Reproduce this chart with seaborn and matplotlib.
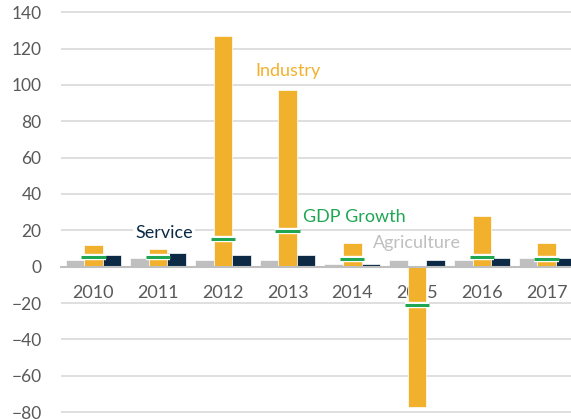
import matplotlib
matplotlib.use("Agg")
import matplotlib.pyplot as plt
import matplotlib.patheffects as pe
import seaborn as sns
import pandas as pd

years = ["2010", "2011", "2012", "2013", "2014", "2015", "2016", "2017"]
agriculture = [3.7, 5.0, 3.7, 3.7, 1.5, 3.7, 3.7, 5.0]
industry = [12.0, 9.7, 127.0, 97.0, 13.0, -77.0, 28.0, 13.0]
service = [6.2, 7.5, 6.2, 6.2, 1.6, 3.7, 4.8, 4.8]
gdp_growth = [5.3, 5.3, 15.0, 19.5, 4.2, -21.0, 5.3, 4.0]

series_names = ["Agriculture", "Industry", "Service"]
colors = {"Agriculture": "#BFBFBF", "Industry": "#F2B12C", "Service": "#0C2A45"}
gdp_color = "#1FA653"
text_gray = "#595959"

df = pd.DataFrame({
    "year": years * 3,
    "sector": [s for s in series_names for _ in years],
    "value": agriculture + industry + service,
})

sns.set_theme(style="white")
plt.rcParams["font.family"] = ["Lato", "DejaVu Sans"]

fig = plt.figure(figsize=(5.71, 4.19), dpi=100)
ax = fig.add_axes([61 / 571, 0.012, 517.9 / 571, 403.6 / 419])

sns.barplot(data=df, x="year", y="value", hue="sector", hue_order=series_names,
            order=years, palette=colors, saturation=1, width=0.86, dodge=True,
            edgecolor="white", linewidth=0.5, errorbar=None, legend=False, ax=ax, zorder=3)

ax.plot(range(len(years)), gdp_growth, linestyle="none", marker="_", markersize=17.5,
        mew=2.2, color=gdp_color, zorder=5,
        path_effects=[pe.Stroke(linewidth=4.6, foreground="white"), pe.Normal()])

ax.set_ylim(-81, 141)
ax.set_xlim(-0.5, 7.5)
ax.set_yticks(range(-80, 141, 20))
ax.set_xlabel("")
ax.set_ylabel("")
ax.grid(axis="y", color="#D9D9D9", linewidth=1.2, zorder=0)
ax.set_axisbelow(True)
for s in ["top", "right", "left"]:
    ax.spines[s].set_visible(False)
ax.spines["bottom"].set_position(("data", 0))
ax.spines["bottom"].set_color("#BFBFBF")
ax.spines["bottom"].set_linewidth(1.5)
ax.spines["bottom"].set_zorder(4)
ax.tick_params(axis="x", length=0, pad=13, labelsize=13, labelcolor=text_gray)
ax.tick_params(axis="y", length=0, pad=14, labelsize=12.5, labelcolor=text_gray)

box = dict(facecolor="white", edgecolor="none", pad=1.5)
ax.text(3.0, 107.5, "Industry", color=colors["Industry"], fontsize=13, ha="center", va="center", bbox=box, zorder=6)
ax.text(4.03, 27.5, "GDP Growth", color=gdp_color, fontsize=13, ha="center", va="center", bbox=box, zorder=6)
ax.text(1.09, 18.7, "Service", color=colors["Service"], fontsize=13, ha="center", va="center", bbox=box, zorder=6)
ax.text(5.0, 13.2, "Agriculture", color="#BFBFBF", fontsize=13, ha="center", va="center", bbox=box, zorder=6)

fig.savefig("out.png", dpi=100)
